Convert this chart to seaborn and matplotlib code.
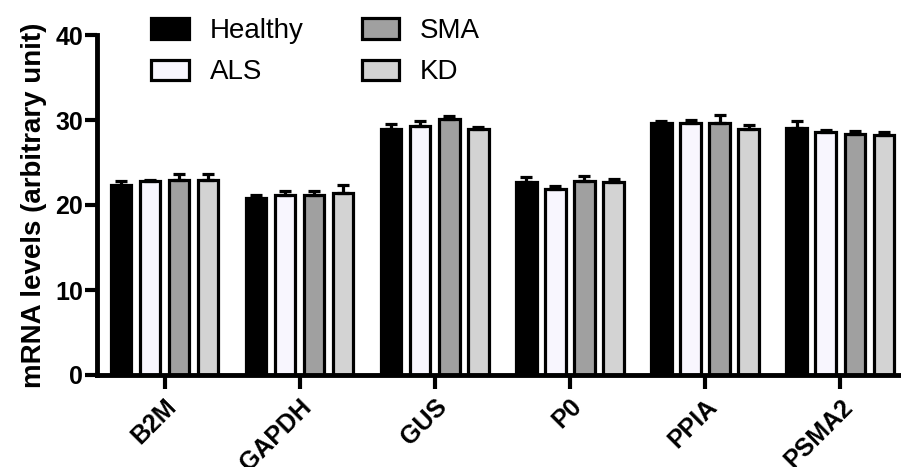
import matplotlib
matplotlib.use("Agg")
import matplotlib.pyplot as plt
import seaborn as sns
import pandas as pd
import numpy as np

# genes on the x axis, four patient groups
genes = ["B2M", "GAPDH", "GUS", "P0", "PPIA", "PSMA2"]
groups = ["Healthy", "ALS", "SMA", "KD"]

# mean mRNA levels per group
healthy = [22.4, 20.8, 29.0, 22.7, 29.6, 29.1]
als = [22.8, 21.2, 29.3, 21.9, 29.6, 28.6]
sma = [22.9, 21.2, 30.1, 22.8, 29.6, 28.3]
kd = [22.9, 21.4, 28.9, 22.7, 28.9, 28.2]

# SEM (upper error bars only)
healthy_err = [0.4, 0.35, 0.5, 0.6, 0.3, 0.8]
als_err = [0.15, 0.5, 0.6, 0.3, 0.4, 0.2]
sma_err = [0.7, 0.45, 0.4, 0.6, 1.0, 0.35]
kd_err = [0.75, 1.0, 0.3, 0.4, 0.55, 0.4]

colors = ["#000000", "#F7F5FF", "#A0A0A0", "#D3D3D3"]

means = [healthy, als, sma, kd]
errs = [healthy_err, als_err, sma_err, kd_err]

df = pd.DataFrame({
    "gene": genes * len(groups),
    "group": [g for g in groups for _ in genes],
    "value": [v for m in means for v in m],
})

sns.set_style("ticks")
plt.rcParams["font.family"] = ["Liberation Sans", "DejaVu Sans"]
plt.rcParams["axes.edgecolor"] = "black"
plt.rcParams["xtick.color"] = "black"
plt.rcParams["ytick.color"] = "black"
plt.rcParams["text.color"] = "black"
plt.rcParams["axes.labelcolor"] = "black"

fig = plt.figure(figsize=(9.01, 4.67), dpi=100)
ax = fig.add_axes([97 / 901, 92 / 467, 804 / 901, 340 / 467])

sns.barplot(data=df, x="gene", y="value", hue="group", order=genes,
            hue_order=groups, palette=colors, errorbar=None,
            width=0.86, gap=0.3, edgecolor="black", linewidth=2.3, ax=ax)

# error bars on top of each bar (patches go hue by hue)
bars = ax.patches[:len(groups) * len(genes)]
for j, g in enumerate(groups):
    for k in range(len(genes)):
        p = bars[j * len(genes) + k]
        xc = p.get_x() + p.get_width() / 2
        top = p.get_height()
        ax.errorbar(xc, top, yerr=[[0], [errs[j][k]]], fmt="none",
                    ecolor="black", elinewidth=2.3, capsize=4,
                    capthick=2.3, zorder=1)

ax.set_xlim(-0.5, 5.45)
ax.set_ylim(0, 40)
ax.set_xlabel("")
ax.set_ylabel("mRNA levels (arbitrary unit)", fontsize=20, fontweight="bold",
              labelpad=6)

ax.set_yticks([0, 10, 20, 30, 40])
ax.set_yticklabels(["0", "10", "20", "30", "40"], fontsize=18,
                   fontweight="bold")
ax.set_xticks(range(len(genes)))
ax.set_xticklabels(genes, rotation=45, ha="right", rotation_mode="anchor",
                   fontsize=18, fontweight="bold")

ax.tick_params(axis="x", length=10, width=3, pad=4)
ax.tick_params(axis="y", length=9, width=3, pad=1)
for side in ["left", "bottom"]:
    ax.spines[side].set_linewidth(3.5)
sns.despine(ax=ax)

handles, labels = ax.get_legend_handles_labels()
ax.legend(handles, labels, ncol=2, loc="upper left",
          bbox_to_anchor=(129 / 901, 1.0 + 4 / 467),
          bbox_transform=fig.transFigure, frameon=False, fontsize=20,
          handlelength=1.35, handleheight=0.75, columnspacing=2.1,
          labelspacing=0.55, handletextpad=0.75, borderpad=0.3)
for h in ax.get_legend().get_patches():
    h.set_edgecolor("black")
    h.set_linewidth(2.3)

fig.savefig("out.png", dpi=100)
